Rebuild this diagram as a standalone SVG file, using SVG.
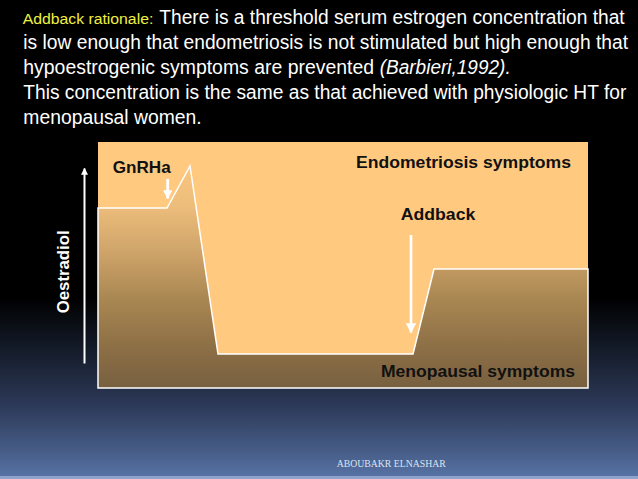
<svg xmlns="http://www.w3.org/2000/svg" width="638" height="479" viewBox="0 0 638 479">
  <defs>
    <linearGradient id="bg" x1="0" y1="0" x2="0" y2="479" gradientUnits="userSpaceOnUse">
      <stop offset="0" stop-color="#000000"/>
      <stop offset="0.62" stop-color="#000000"/>
      <stop offset="0.73" stop-color="#141b29"/>
      <stop offset="0.84" stop-color="#2b3755"/>
      <stop offset="0.94" stop-color="#465c86"/>
      <stop offset="1" stop-color="#5874a8"/>
    </linearGradient>
    <linearGradient id="brown" x1="0" y1="166" x2="0" y2="388" gradientUnits="userSpaceOnUse">
      <stop offset="0" stop-color="#fbc680"/>
      <stop offset="0.19" stop-color="#ebbc7a"/>
      <stop offset="0.38" stop-color="#d0a56b"/>
      <stop offset="0.6" stop-color="#a98752"/>
      <stop offset="0.84" stop-color="#8a6d45"/>
      <stop offset="1" stop-color="#776040"/>
    </linearGradient>
    <marker id="ahead" viewBox="0 0 10 10" refX="9" refY="5" markerWidth="3.3" markerHeight="3.3" orient="auto">
      <path d="M0,0 L10,5 L0,10 Z" fill="#ffffff"/>
    </marker>
    <marker id="ahead2" viewBox="0 0 10 10" refX="9" refY="5" markerWidth="4" markerHeight="4" orient="auto">
      <path d="M0,0 L10,5 L0,10 Z" fill="#ffffff"/>
    </marker>
    <marker id="axhead" viewBox="0 0 10 10" refX="9" refY="5" markerWidth="3.5" markerHeight="3.5" orient="auto">
      <path d="M0,0 L10,5 L0,10 Z" fill="#ffffff"/>
    </marker>
  </defs>
  <style>
    .title { font-family: "Liberation Sans", Arial, sans-serif; font-size: 19.5px; fill: #ffffff; }
    .yellow { font-family: "Liberation Sans", Arial, sans-serif; font-size: 15.5px; fill: #f0f040; }
    .lbl { font-family: "Liberation Sans", Arial, sans-serif; font-weight: bold; font-size: 16.5px; fill: #111111; }
    .axis { font-family: "Liberation Sans", Arial, sans-serif; font-weight: bold; font-size: 16px; fill: #ffffff; }
    .foot { font-family: "Liberation Serif", "Times New Roman", serif; font-size: 9.5px; fill: #dde4f2; }
    .arrow { stroke: #ffffff; fill: none; }
  </style>

  <rect x="0" y="0" width="638" height="479" fill="url(#bg)"/>
  <rect x="0" y="476" width="638" height="3" fill="#8ea2cc"/>

  <g id="title">
    <text class="yellow" x="22.7" y="24" textLength="130.6" lengthAdjust="spacingAndGlyphs">Addback rationale:</text>
    <text class="title" x="159.3" y="24" textLength="465.4" lengthAdjust="spacingAndGlyphs">There is a threshold serum estrogen concentration that</text>
    <text class="title" x="23.3" y="48.5" textLength="604.7" lengthAdjust="spacingAndGlyphs">is low enough that endometriosis is not stimulated but high enough that</text>
    <text class="title" x="23.3" y="74" textLength="350.7" lengthAdjust="spacingAndGlyphs">hypoestrogenic symptoms are prevented</text>
    <text class="title" x="379.7" y="74" textLength="131" lengthAdjust="spacingAndGlyphs" font-style="italic">(Barbieri,1992).</text>
    <text class="title" x="23.3" y="99" textLength="603" lengthAdjust="spacingAndGlyphs">This concentration is the same as that achieved with physiologic HT for</text>
    <text class="title" x="23.3" y="123.5" textLength="178.4" lengthAdjust="spacingAndGlyphs">menopausal women.</text>
  </g>

  <g id="chart-area">
    <rect x="98" y="142" width="490" height="246" fill="#ffc980"/>
  </g>

  <g id="oestradiol-curve">
    <polygon points="98,208 167,208 190,166 218,354 413,354 434,269 588,269 588,388 98,388" fill="url(#brown)" stroke="#ffffff" stroke-width="1.5" stroke-linejoin="miter"/>
  </g>

  <g id="y-axis">
    <line class="arrow" x1="84.5" y1="363.5" x2="84.5" y2="168.5" stroke-width="2" marker-end="url(#axhead)"/>
    <text class="axis" transform="translate(68.5,313.3) rotate(-90)" textLength="83" lengthAdjust="spacingAndGlyphs">Oestradiol</text>
  </g>

  <g id="gnrha">
    <text class="lbl" x="112.7" y="172.7" textLength="58" lengthAdjust="spacingAndGlyphs">GnRHa</text>
  </g>

  <g id="endometriosis-symptoms">
    <text class="lbl" x="356" y="168" textLength="215" lengthAdjust="spacingAndGlyphs">Endometriosis symptoms</text>
  </g>

  <g id="addback">
    <text class="lbl" x="400.7" y="220" textLength="74.6" lengthAdjust="spacingAndGlyphs">Addback</text>
  </g>

  <g id="menopausal-symptoms">
    <text class="lbl" x="381" y="376.7" textLength="194" lengthAdjust="spacingAndGlyphs">Menopausal symptoms</text>
  </g>

  <g id="connectors">
    <line class="arrow" x1="167.7" y1="179" x2="167.7" y2="198.5" stroke-width="2.8" marker-end="url(#ahead)"/>
    <line class="arrow" x1="411" y1="235" x2="411" y2="332.5" stroke-width="2.6" marker-end="url(#ahead2)"/>
  </g>

  <g id="footer">
    <text class="foot" x="336.7" y="467.3" textLength="109" lengthAdjust="spacingAndGlyphs">ABOUBAKR ELNASHAR</text>
  </g>
</svg>
